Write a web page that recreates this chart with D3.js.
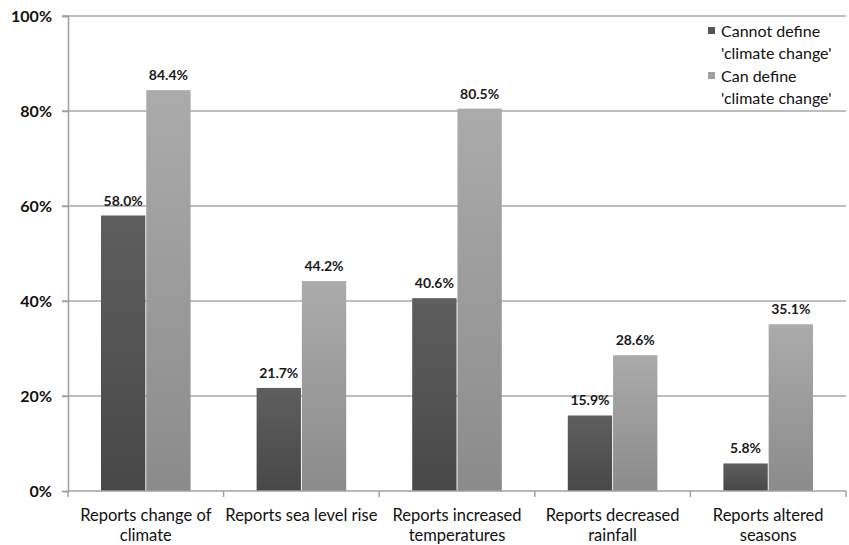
<!DOCTYPE html>
<html>
<head>
<meta charset="utf-8">
<script src="https://cdn.jsdelivr.net/npm/d3@7"></script>
<style>
  html, body { margin: 0; padding: 0; background: #fff; }
  svg { display: block; font-family: Lato, "Open Sans", sans-serif; }
</style>
</head>
<body>
<svg id="chart" width="849" height="545"></svg>
<script>
// Survey responses by whether respondents can define "climate change"
const categories = [
  "Reports change of\nclimate",
  "Reports sea level rise",
  "Reports increased\ntemperatures",
  "Reports decreased\nrainfall",
  "Reports altered\nseasons"
];
const seriesNames = ["Cannot define\n'climate change'", "Can define\n'climate change'"];
const cannotDefine = [58.0, 21.7, 40.6, 15.9, 5.8];
const canDefine = [84.4, 44.2, 80.5, 28.6, 35.1];
const yTicks = [0, 20, 40, 60, 80, 100];

const W = 849, H = 545;
const margin = { top: 16, right: 3, bottom: 54, left: 68 };
const svg = d3.select("#chart");

const defs = svg.append("defs");
function grad(id, top, bottom) {
  const g = defs.append("linearGradient").attr("id", id)
    .attr("x1", 0).attr("y1", 0).attr("x2", 0).attr("y2", 1);
  g.append("stop").attr("offset", "0%").attr("stop-color", top);
  g.append("stop").attr("offset", "100%").attr("stop-color", bottom);
}
grad("gDark", "#5e5e5e", "#484848");
grad("gLight", "#ababab", "#8b8b8b");
const fills = ["url(#gDark)", "url(#gLight)"];
const swatch = ["#565656", "#a0a0a0"];

const x0 = d3.scaleBand().domain(d3.range(categories.length))
  .range([margin.left, W - margin.right]).paddingInner(0).paddingOuter(0);
const groupPad = 33;
const x1 = d3.scaleBand().domain([0, 1])
  .range([groupPad, x0.bandwidth() - groupPad]).paddingInner(0.02);
const y = d3.scaleLinear().domain([0, 100]).range([H - margin.bottom, margin.top]);

// gridlines
svg.append("g").selectAll("line").data(yTicks.filter(d => d > 0)).join("line")
  .attr("x1", margin.left - 6).attr("x2", W - margin.right)
  .attr("y1", d => y(d)).attr("y2", d => y(d))
  .attr("stroke", "#a8a8a8").attr("stroke-width", 1.5);

// y axis
const yAxis = svg.append("g").attr("transform", `translate(${margin.left},0)`)
  .call(d3.axisLeft(y).tickValues(yTicks).tickFormat(d => d + "%").tickSize(6).tickPadding(10));
yAxis.select(".domain").attr("stroke", "#a0a0a0").attr("stroke-width", 1.5);
yAxis.selectAll(".tick line").attr("stroke", "#a0a0a0").attr("stroke-width", 1.5);
yAxis.selectAll(".tick text").attr("font-size", 16).attr("font-weight", 700)
  .attr("fill", "#111").style("font-family", "Lato, sans-serif");

// bars
const series = [cannotDefine, canDefine];
const groups = svg.append("g").selectAll("g").data(categories).join("g")
  .attr("transform", (d, i) => `translate(${x0(i)},0)`);
groups.each(function (c, i) {
  const g = d3.select(this);
  series.forEach((vals, s) => {
    const v = vals[i];
    g.append("rect")
      .attr("x", x1(s)).attr("width", x1.bandwidth())
      .attr("y", y(v)).attr("height", y(0) - y(v))
      .attr("fill", fills[s]);
    g.append("text")
      .attr("x", x1(s) + x1.bandwidth() / 2).attr("y", y(v) - 10)
      .attr("text-anchor", "middle").attr("font-size", 14).attr("font-weight", 700)
      .attr("fill", "#1a1a1a").text(v.toFixed(1) + "%");
  });
});

// x axis
const xAxisY = y(0);
svg.append("line").attr("x1", margin.left).attr("x2", W - margin.right)
  .attr("y1", xAxisY).attr("y2", xAxisY).attr("stroke", "#a0a0a0").attr("stroke-width", 1.5);
svg.append("g").selectAll("line").data(d3.range(categories.length + 1)).join("line")
  .attr("x1", i => margin.left + i * x0.step()).attr("x2", i => margin.left + i * x0.step())
  .attr("y1", xAxisY).attr("y2", xAxisY + 6)
  .attr("stroke", "#a0a0a0").attr("stroke-width", 1.5);

// category labels
svg.append("g").selectAll("text").data(categories).join("text")
  .attr("x", (d, i) => x0(i) + x0.bandwidth() / 2)
  .attr("y", 521)
  .attr("text-anchor", "middle").attr("font-size", 16.5).attr("fill", "#111")
  .each(function (d) {
    d.split("\n").forEach((line, k) => {
      d3.select(this).append("tspan")
        .attr("x", d3.select(this).attr("x")).attr("dy", k === 0 ? 0 : 20).text(line);
    });
  });

// legend
const legend = svg.append("g").attr("transform", "translate(708,0)");
legend.append("rect").attr("x", -4).attr("y", 20).attr("width", 140).attr("height", 88).attr("fill", "#fff");
seriesNames.forEach((name, s) => {
  const top = 31 + s * 45;
  legend.append("rect").attr("x", 0).attr("y", top - 4).attr("width", 7).attr("height", 7)
    .attr("fill", swatch[s]);
  name.split("\n").forEach((line, k) => {
    legend.append("text").attr("x", 13).attr("y", top + k * 22)
      .attr("dy", "0.35em").attr("font-size", 16).attr("fill", "#111").text(line);
  });
});
</script>
</body>
</html>
